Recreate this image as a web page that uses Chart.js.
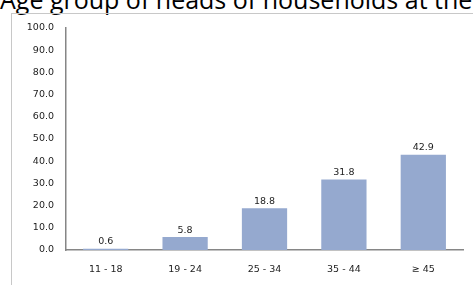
<!DOCTYPE html>
<html lang="en">
<head>
    <meta charset="UTF-8">
    <title>Age group of heads of households</title>
    <script src="https://cdn.jsdelivr.net/npm/chart.js"></script>
    <style>
        html, body { margin: 0; padding: 0; background: #fff; overflow: hidden; }
        #wrap { position: relative; width: 473px; height: 285px; overflow: hidden; }
        #title {
            position: absolute; left: 0px; top: -16px;
            font-family: "Open Sans", sans-serif; font-size: 25px; line-height: 30px;
            color: #000; white-space: nowrap;
        }
        #frame {
            position: absolute; left: 11px; top: 13px; width: 480px; height: 300px;
            border-left: 1px solid #c8c8c8; border-top: 1px solid #c8c8c8;
        }
        #box { position: absolute; left: 0; top: 0; width: 473px; height: 285px; }
    </style>
</head>
<body>
<div id="wrap">
    <div id="title">Age group of heads of households at the time of the survey</div>
    <div id="frame"></div>
    <div id="box"><canvas id="myChart"></canvas></div>
</div>

<script>
    // categories and values
    const ageGroups = ['11 - 18', '19 - 24', '25 - 34', '35 - 44', '\u2265 45'];
    const shares = [0.6, 5.8, 18.8, 31.8, 42.9];
    const yTicks = [0, 10, 20, 30, 40, 50, 60, 70, 80, 90, 100];

    const tickFont = { family: 'DejaVu Sans', size: 9.5 };

    // value labels over the bars
    const barLabels = {
        id: 'barLabels',
        afterDatasetsDraw(chart) {
            const ctx = chart.ctx;
            const meta = chart.getDatasetMeta(0);
            ctx.save();
            ctx.font = '9.5px "DejaVu Sans"';
            ctx.fillStyle = '#222';
            ctx.textAlign = 'center';
            ctx.textBaseline = 'bottom';
            meta.data.forEach((bar, i) => {
                ctx.fillText(shares[i].toFixed(1), bar.x, bar.y - 2);
            });
            ctx.restore();
        }
    };

    const config = {
        type: 'bar',
        data: {
            labels: ageGroups,
            datasets: [{
                data: shares,
                backgroundColor: '#95a9cf',
                borderWidth: 0,
                barPercentage: 0.57,
                categoryPercentage: 1
            }]
        },
        options: {
            responsive: false,
            animation: false,
            layout: { padding: { left: 0, right: 10, top: 28, bottom: 0 } },
            plugins: {
                legend: { display: false },
                tooltip: { enabled: false },
                title: { display: false }
            },
            scales: {
                x: {
                    grid: { display: false, drawTicks: false },
                    border: { color: '#868686', width: 1.5 },
                    ticks: { font: tickFont, color: '#222', padding: 14 },
                    afterFit(scale) { scale.height = 35; }
                },
                y: {
                    min: 0,
                    max: 100,
                    afterBuildTicks(scale) { scale.ticks = yTicks.map(v => ({ value: v })); },
                    grid: { display: false, drawTicks: false },
                    border: { color: '#868686', width: 1.5 },
                    ticks: {
                        font: tickFont, color: '#222', padding: 12,
                        callback: v => v.toFixed(1)
                    },
                    afterFit(scale) { scale.width = 66; }
                }
            }
        },
        plugins: [barLabels]
    };

    const canvas = document.getElementById('myChart');
    canvas.width = 473;
    canvas.height = 285;
    new Chart(canvas, config);
</script>
</body>
</html>
